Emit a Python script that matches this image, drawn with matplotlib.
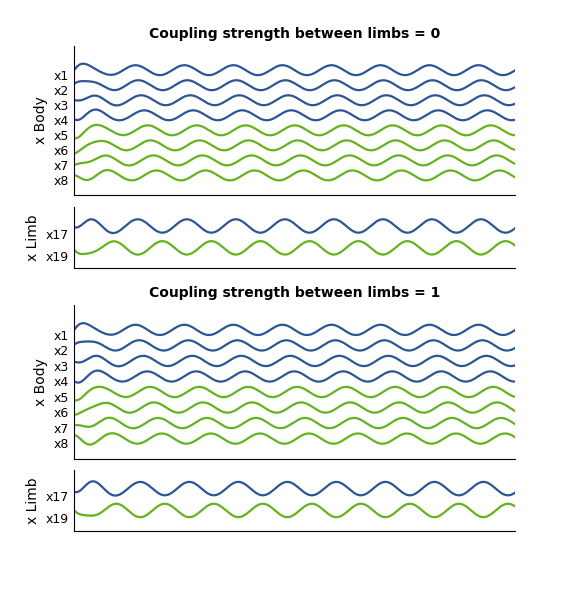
import numpy as np
import matplotlib.pyplot as plt

blue = '#2d5596'
green = '#66b21e'

t = np.linspace(0, 90, 1500)

# per-trace oscillation parameters: (phase in cycles, amplitude)
body_labels = ['x1', 'x2', 'x3', 'x4', 'x5', 'x6', 'x7', 'x8']
body_phase_0 = [0.00, 0.06, 0.12, 0.18, 0.25, 0.31, 0.37, 0.43]
body_phase_1 = [0.00, 0.08, 0.16, 0.24, 0.30, 0.38, 0.46, 0.54]
limb_labels = ['x17', 'x19']
limb_phase_0 = [0.05, 0.55]
limb_phase_1 = [0.10, 0.60]
period = 10.0
amp = 0.33


def trace(phase, k):
    return amp * np.sin(2 * np.pi * (t / period - phase)) + 0.25 * np.exp(-t / 3) * np.sin(k + t)


fig = plt.figure(figsize=(5.7, 6.15), dpi=100)
panels = [
    (0.683, 0.242, 0.564, body_phase_0, limb_phase_0, 'Coupling strength between limbs = 0'),
    (0.254, 0.250, 0.137, body_phase_1, limb_phase_1, 'Coupling strength between limbs = 1'),
]
for bb, bh, lb, bph, lph, title in panels:
    ax = fig.add_axes([0.130, bb, 0.774, bh])
    for i, ph in enumerate(bph):
        c = blue if i < 4 else green
        ax.plot(t, -i + 0.3 + trace(ph, i), color=c, lw=1.6)
    ax.set_yticks(-np.arange(8))
    ax.set_yticklabels(body_labels)
    ax.set_ylim(-8.0, 1.9)
    ax.set_ylabel('x Body', fontsize=10)
    ax.set_title(title, fontsize=10, fontweight='bold')
    ax2 = fig.add_axes([0.130, lb, 0.774, 0.099])
    for i, ph in enumerate(lph):
        c = blue if i == 0 else green
        ax2.plot(t, -i * 1.4 + 0.5 + 1.3 * trace(ph, i + 3), color=c, lw=1.6)
    ax2.set_yticks([0, -1.4])
    ax2.set_yticklabels(limb_labels)
    ax2.set_ylim(-2.2, 1.7)
    ax2.set_ylabel('x Limb', fontsize=10)
    for a in (ax, ax2):
        a.set_xlim(t[0], t[-1])
        a.set_xticks([])
        a.spines['top'].set_visible(False)
        a.spines['right'].set_visible(False)
        a.tick_params(axis='y', length=0, labelsize=9)

fig.savefig('out.png', dpi=100)
